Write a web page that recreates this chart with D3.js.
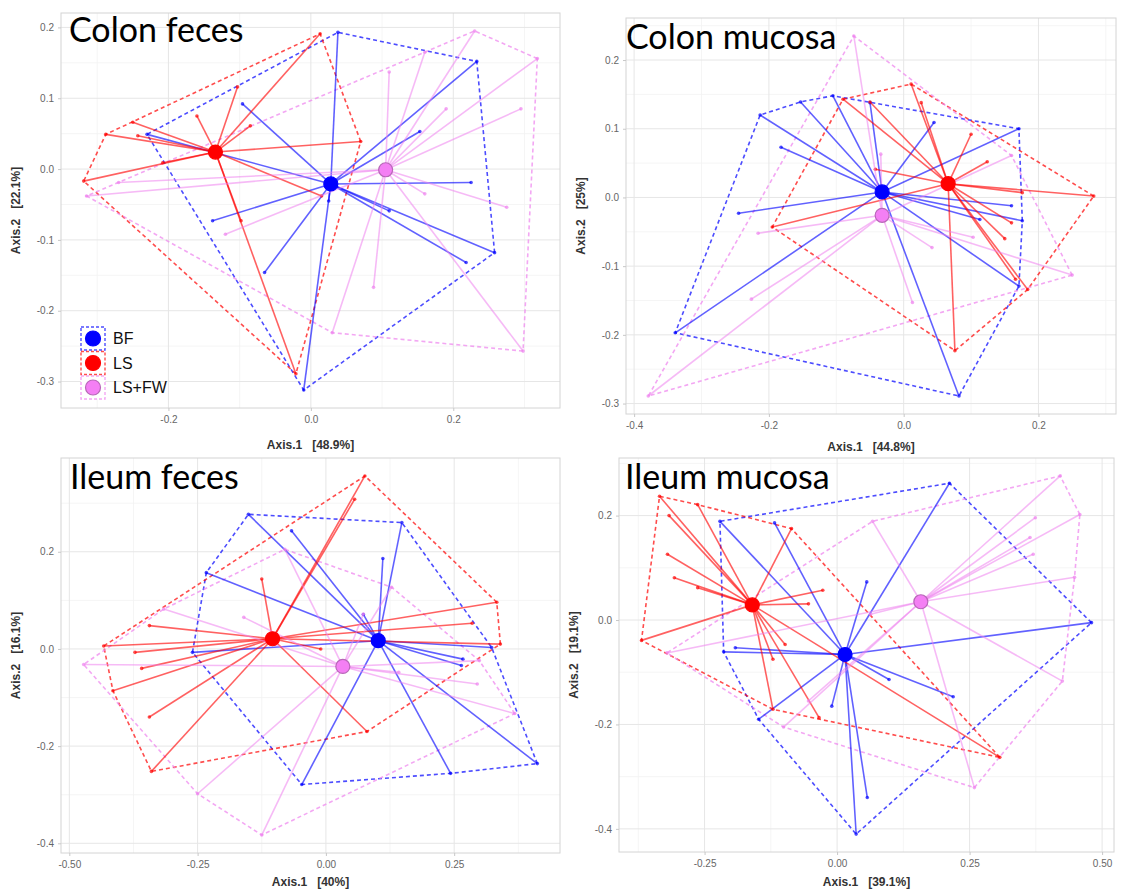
<!DOCTYPE html>
<html>
<head>
<meta charset="utf-8">
<script src="https://cdn.jsdelivr.net/npm/d3@7"></script>
<style>
  body { margin: 0; background: #fff; }
  svg text { font-family: "Liberation Sans", Arial, sans-serif; }
</style>
</head>
<body>
<div id="chart"></div>
<script>
const groups = ["BF", "LS", "LS+FW"];
const groupColors = ["#0000ff", "#ff0000", "#ee82ee"];

const panelTitles = ["Colon feces", "Colon mucosa", "Ileum feces", "Ileum mucosa"];
const xTitles = ["Axis.1   [48.9%]", "Axis.1   [44.8%]", "Axis.1   [40%]", "Axis.1   [39.1%]"];
const yTitles = ["Axis.2   [22.1%]", "Axis.2   [25%]", "Axis.2   [16.1%]", "Axis.2   [19.1%]"];
const xTicks = [[-0.2, 0, 0.2], [-0.4, -0.2, 0, 0.2], [-0.5, -0.25, 0, 0.25], [-0.25, 0, 0.25, 0.5]];
const yTicks = [[-0.3, -0.2, -0.1, 0, 0.1, 0.2], [-0.3, -0.2, -0.1, 0, 0.1, 0.2], [-0.4, -0.2, 0, 0.2], [-0.4, -0.2, 0, 0.2]];

// centroids in group order BF, LS, LS+FW
const colonFecesCentroids = [[0.028, -0.021], [-0.134, 0.024], [0.105, -0.001]];
const colonFecesBF = [[0.038,0.193],[0.233,0.152],[0.258,-0.118],[-0.010,-0.312],[-0.230,0.049],[-0.096,0.092],[0.153,0.053],[0.225,-0.019],[0.218,-0.132],[0.110,-0.059],[-0.138,-0.073],[-0.065,-0.146],[0.025,-0.045]];
const colonFecesLS = [[0.013,0.191],[-0.103,0.116],[-0.250,0.066],[-0.288,0.049],[-0.319,-0.017],[-0.021,-0.289],[0.070,0.039],[-0.085,0.061],[-0.160,0.075],[-0.243,0.047],[0.015,-0.038],[-0.098,-0.073],[-0.208,0.009]];
const colonFecesLSFW = [[0.230,0.195],[0.318,0.156],[0.298,-0.257],[0.030,-0.231],[-0.315,-0.038],[0.160,0.165],[0.110,0.137],[0.190,0.085],[0.295,0.085],[0.275,-0.054],[0.160,-0.035],[0.088,-0.167],[-0.120,-0.092],[-0.270,-0.019]];

const colonMucosaCentroids = [[-0.032, 0.008], [0.066, 0.020], [-0.032, -0.026]];
const colonMucosaBF = [[-0.213,0.120],[-0.339,-0.197],[0.082,-0.289],[0.171,-0.129],[0.171,0.100],[-0.105,0.148],[-0.153,0.139],[-0.182,0.073],[-0.245,-0.023],[0.045,0.109],[0.160,-0.012],[0.176,-0.034],[0.113,-0.032],[-0.050,0.138]];
const colonMucosaLS = [[0.011,0.165],[0.282,0.002],[0.076,-0.223],[0.184,-0.134],[-0.195,-0.043],[-0.090,0.143],[-0.050,0.139],[0.026,0.138],[0.100,0.092],[0.124,0.052],[0.150,-0.060],[0.160,-0.037],[0.176,0.007],[-0.042,0.041],[0.166,-0.119]];
const colonMucosaLSFW = [[-0.074,0.235],[-0.379,-0.289],[0.250,-0.113],[0.160,0.061],[-0.034,0.063],[-0.216,-0.052],[-0.226,-0.148],[0.013,-0.153],[0.042,-0.073],[0.103,-0.058]];

const ileumFecesCentroids = [[0.102, 0.017], [-0.104, 0.021], [0.033, -0.036]];
const ileumFecesBF = [[-0.151,0.277],[0.148,0.260],[-0.233,0.157],[-0.260,-0.007],[-0.047,-0.279],[0.243,-0.256],[0.412,-0.236],[0.323,0.003],[-0.067,0.243],[0.111,0.186],[0.073,0.071],[0.264,-0.034],[0.267,-0.021]];
const ileumFecesLS = [[0.076,0.356],[0.333,0.096],[0.340,0.010],[0.080,-0.170],[-0.340,-0.252],[-0.415,-0.086],[-0.433,0.006],[0.056,0.308],[-0.125,0.144],[-0.344,0.048],[-0.372,-0.007],[-0.359,-0.040],[-0.344,-0.140],[0.285,0.053],[-0.010,0.000]];
const ileumFecesLSFW = [[-0.472,-0.032],[-0.125,-0.383],[-0.250,-0.298],[0.368,-0.133],[0.128,0.127],[-0.080,0.205],[-0.316,0.082],[-0.160,0.065],[0.073,0.072],[0.295,-0.072],[0.299,-0.024],[0.142,-0.048]];

const ileumMucosaCentroids = [[0.015, -0.066], [-0.160, 0.029], [0.158, 0.035]];
const ileumMucosaBF = [[0.212,0.262],[0.480,-0.005],[0.036,-0.410],[-0.148,-0.190],[-0.214,-0.061],[-0.221,0.189],[-0.118,0.186],[0.056,0.073],[0.219,-0.147],[0.057,-0.340],[-0.010,-0.165],[0.098,-0.114],[-0.192,-0.053]];
const ileumMucosaLS = [[-0.335,0.237],[-0.369,-0.039],[0.307,-0.263],[-0.086,0.175],[-0.263,0.221],[-0.317,0.200],[-0.320,0.126],[-0.307,0.081],[-0.263,0.062],[-0.027,0.057],[-0.054,0.031],[-0.121,-0.075],[-0.098,-0.047],[-0.121,-0.171],[-0.034,-0.187]];
const ileumMucosaLSFW = [[0.421,0.276],[0.458,0.202],[0.425,-0.117],[0.259,-0.321],[-0.101,-0.205],[-0.321,-0.063],[0.067,0.189],[0.374,0.196],[0.364,0.158],[0.370,0.126],[0.448,0.082],[0.063,0.011],[-0.054,-0.155]];

const panels = [
  {samples: [colonFecesBF, colonFecesLS, colonFecesLSFW], centroids: colonFecesCentroids},
  {samples: [colonMucosaBF, colonMucosaLS, colonMucosaLSFW], centroids: colonMucosaCentroids},
  {samples: [ileumFecesBF, ileumFecesLS, ileumFecesLSFW], centroids: ileumFecesCentroids},
  {samples: [ileumMucosaBF, ileumMucosaLS, ileumMucosaLSFW], centroids: ileumMucosaCentroids}
];

const boxes = [
  {left: 61, right: 560, top: 13, bottom: 408},
  {left: 626, right: 1116, top: 18, bottom: 414},
  {left: 61, right: 560, top: 458, bottom: 853},
  {left: 619, right: 1114, top: 458, bottom: 852}
];
const titlePos = [[69, 42], [626, 49], [70, 489], [625, 489]];
const xTitleY = [449, 451, 886, 886];
const xFormats = [".1f", ".1f", ".2f", ".2f"];

const locale = d3.formatLocale({decimal: ".", thousands: ",", grouping: [3], currency: ["", ""], minus: "-"});

const svg = d3.select("#chart").append("svg")
    .attr("width", 1126)
    .attr("height", 890);

// ggplot style expansion of 5% on each side
function expand(vals) {
  const e = d3.extent(vals);
  const r = e[1] - e[0];
  return [e[0] - 0.05 * r, e[1] + 0.05 * r];
}

function minorVals(ticks, domain) {
  const step = ticks[1] - ticks[0];
  const out = [];
  for (let k = -6; k < ticks.length + 6; k++) {
    const v = ticks[0] + (k + 0.5) * step;
    if (v > domain[0] && v < domain[1]) out.push(v);
  }
  return out;
}

panels.forEach(function(p, i) {
  const b = boxes[i];
  const all = p.samples.flat().concat(p.centroids);
  const xDom = expand(all.map(d => d[0]));
  const yDom = expand(all.map(d => d[1]));
  const x = d3.scaleLinear().domain(xDom).range([b.left, b.right]);
  const y = d3.scaleLinear().domain(yDom).range([b.bottom, b.top]);

  const g = svg.append("g");

  g.append("clipPath").attr("id", "clip" + i)
    .append("rect")
      .attr("x", b.left).attr("y", b.top)
      .attr("width", b.right - b.left).attr("height", b.bottom - b.top);

  // grid
  g.append("g").selectAll("line")
    .data(minorVals(xTicks[i], xDom))
    .enter().append("line")
      .attr("x1", d => x(d)).attr("x2", d => x(d))
      .attr("y1", b.top).attr("y2", b.bottom)
      .attr("stroke", "#f3f3f3").attr("stroke-width", 0.8);
  g.append("g").selectAll("line")
    .data(minorVals(yTicks[i], yDom))
    .enter().append("line")
      .attr("y1", d => y(d)).attr("y2", d => y(d))
      .attr("x1", b.left).attr("x2", b.right)
      .attr("stroke", "#f3f3f3").attr("stroke-width", 0.8);
  g.append("g").selectAll("line")
    .data(xTicks[i])
    .enter().append("line")
      .attr("x1", d => x(d)).attr("x2", d => x(d))
      .attr("y1", b.top).attr("y2", b.bottom)
      .attr("stroke", "#e6e6e6").attr("stroke-width", 1);
  g.append("g").selectAll("line")
    .data(yTicks[i])
    .enter().append("line")
      .attr("y1", d => y(d)).attr("y2", d => y(d))
      .attr("x1", b.left).attr("x2", b.right)
      .attr("stroke", "#e6e6e6").attr("stroke-width", 1);

  const plot = g.append("g").attr("clip-path", "url(#clip" + i + ")");

  // hulls
  p.samples.forEach(function(s, k) {
    const hull = d3.polygonHull(s.map(d => [x(d[0]), y(d[1])]));
    plot.append("path")
      .attr("d", "M" + hull.join("L") + "Z")
      .attr("fill", "none")
      .attr("stroke", groupColors[k])
      .attr("stroke-opacity", 0.7)
      .attr("stroke-width", 1.6)
      .attr("stroke-dasharray", "4,3");
  });

  // spokes + sample points
  p.samples.forEach(function(s, k) {
    const c = p.centroids[k];
    plot.append("g").selectAll("line")
      .data(s)
      .enter().append("line")
        .attr("x1", x(c[0])).attr("y1", y(c[1]))
        .attr("x2", d => x(d[0])).attr("y2", d => y(d[1]))
        .attr("stroke", groupColors[k])
        .attr("stroke-opacity", k === 2 ? 0.55 : 0.62)
        .attr("stroke-width", 1.6);
    plot.append("g").selectAll("circle")
      .data(s)
      .enter().append("circle")
        .attr("cx", d => x(d[0])).attr("cy", d => y(d[1]))
        .attr("r", 1.8)
        .attr("fill", groupColors[k])
        .attr("fill-opacity", 0.7);
  });

  // centroids
  plot.append("g").selectAll("circle")
    .data(p.centroids)
    .enter().append("circle")
      .attr("cx", d => x(d[0])).attr("cy", d => y(d[1]))
      .attr("r", 7)
      .attr("fill", (d, k) => k === 2 ? "#f47ff4" : groupColors[k])
      .attr("stroke", (d, k) => k === 2 ? "#b868b8" : groupColors[k])
      .attr("stroke-width", 1.2);

  // border
  g.append("rect")
    .attr("x", b.left).attr("y", b.top)
    .attr("width", b.right - b.left).attr("height", b.bottom - b.top)
    .attr("fill", "none")
    .attr("stroke", "#d4d4d4")
    .attr("stroke-width", 1);

  // axes
  const xAxis = g.append("g")
    .attr("transform", "translate(0," + b.bottom + ")")
    .call(d3.axisBottom(x).tickValues(xTicks[i]).tickFormat(locale.format(xFormats[i])).tickSize(3).tickPadding(5));
  const yAxis = g.append("g")
    .attr("transform", "translate(" + b.left + ",0)")
    .call(d3.axisLeft(y).tickValues(yTicks[i]).tickFormat(locale.format(".1f")).tickSize(3).tickPadding(4));
  [xAxis, yAxis].forEach(function(a) {
    a.select(".domain").remove();
    a.selectAll(".tick line").attr("stroke", "#c8c8c8");
    a.selectAll(".tick text")
      .attr("fill", "#666")
      .attr("font-size", 10)
      .style("font-family", "'Liberation Sans', Arial, sans-serif");
  });

  g.append("text")
    .attr("x", (b.left + b.right) / 2)
    .attr("y", xTitleY[i])
    .attr("text-anchor", "middle")
    .attr("font-size", 12)
    .attr("font-weight", "bold")
    .attr("fill", "#333")
    .style("white-space", "pre")
    .text(xTitles[i]);

  g.append("text")
    .attr("transform", "translate(" + (b.left - 41) + "," + ((b.top + b.bottom) / 2) + ") rotate(-90)")
    .attr("text-anchor", "middle")
    .attr("font-size", 12)
    .attr("font-weight", "bold")
    .attr("fill", "#333")
    .style("white-space", "pre")
    .text(yTitles[i]);

  g.append("text")
    .attr("x", titlePos[i][0])
    .attr("y", titlePos[i][1])
    .attr("font-size", 34)
    .attr("fill", "#000")
    .style("font-family", "Lato, 'Open Sans', sans-serif")
    .text(panelTitles[i]);
});

// legend inside first panel
const legend = svg.append("g")
  .selectAll("g")
  .data(groups)
  .enter().append("g")
  .attr("transform", function(d, i) { return "translate(81," + (327 + i * 24.5) + ")"; });

legend.append("rect")
  .attr("width", 24)
  .attr("height", 23)
  .attr("fill", "#fff")
  .attr("stroke", (d, i) => groupColors[i])
  .attr("stroke-opacity", 0.7)
  .attr("stroke-width", 1.4)
  .attr("stroke-dasharray", "3,2");

legend.append("circle")
  .attr("cx", 12)
  .attr("cy", 11.5)
  .attr("r", 7.5)
  .attr("fill", (d, i) => i === 2 ? "#f47ff4" : groupColors[i])
  .attr("stroke", (d, i) => i === 2 ? "#b868b8" : groupColors[i])
  .attr("stroke-width", 1.2);

legend.append("text")
  .attr("x", 32)
  .attr("y", 11.5)
  .attr("dy", "0.36em")
  .attr("font-size", 16)
  .attr("fill", "#111")
  .text(d => d);
</script>
</body>
</html>
